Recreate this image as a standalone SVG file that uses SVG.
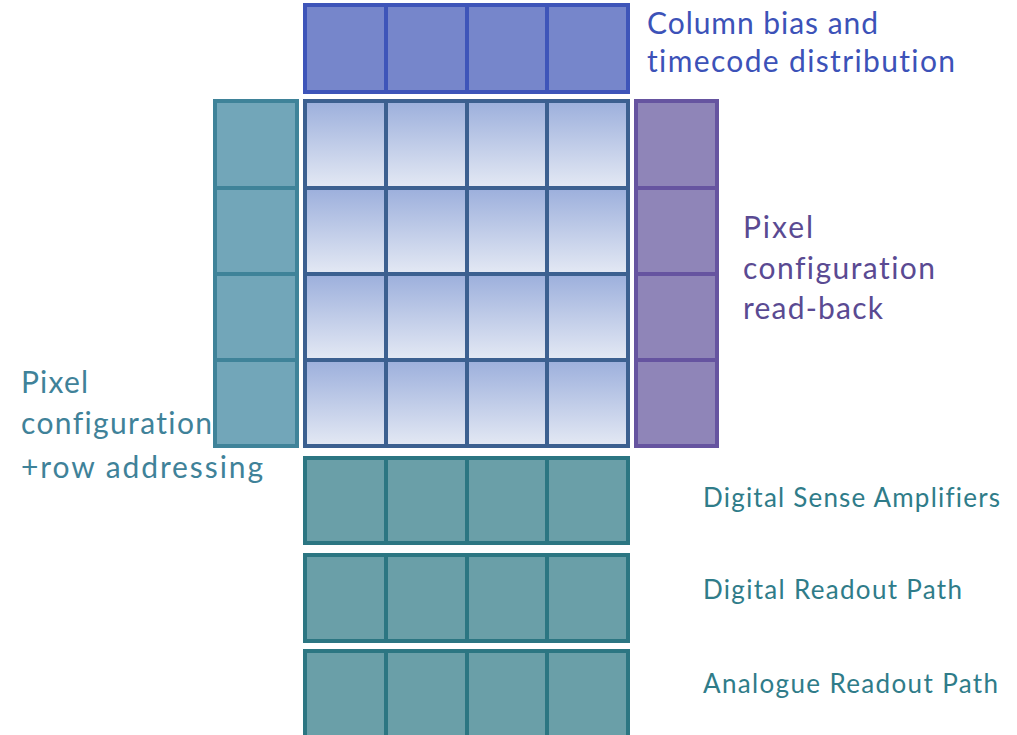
<svg xmlns="http://www.w3.org/2000/svg" width="1017" height="735" viewBox="0 0 1017 735">
  <defs>
    <linearGradient id="pixelFill" x1="0" y1="0" x2="0" y2="1">
      <stop offset="0" stop-color="#9cafdc"/>
      <stop offset="1" stop-color="#e4e9f4"/>
    </linearGradient>
    <style>
      rect { stroke-width: 4; }
      .bias rect { fill: #7686cb; stroke: #3e55b9; }
      .pix rect { fill: url(#pixelFill); stroke: #3c6090; }
      .rowcfg rect { fill: #72a6b9; stroke: #3f8399; }
      .readback rect { fill: #8f85b8; stroke: #6654a0; }
      .readout rect { fill: #6a9fa8; stroke: #2c7682; }
      text { font-family: Lato, "Open Sans", sans-serif; font-variant-ligatures: none; }
      .lbl-blue { fill: #3c52b8; font-size: 30px; }
      .lbl-purple { fill: #5a4a92; font-size: 30px; }
      .lbl-teal { fill: #3f8299; font-size: 30px; }
      .lbl-small { fill: #2f7c89; font-size: 26px; }
    </style>
  </defs>

  <rect width="1017" height="735" fill="#ffffff"/>

  <!-- column bias and timecode distribution strip -->
  <g id="column-bias" class="bias">
    <rect x="305" y="5" width="81" height="87"/>
    <rect x="386" y="5" width="81" height="87"/>
    <rect x="467" y="5" width="80" height="87"/>
    <rect x="547" y="5" width="81" height="87"/>
  </g>

  <!-- pixel matrix 4x4 -->
  <g id="pixel-matrix" class="pix">
    <rect x="305" y="101" width="81" height="87"/>
    <rect x="386" y="101" width="81" height="87"/>
    <rect x="467" y="101" width="80" height="87"/>
    <rect x="547" y="101" width="81" height="87"/>
    <rect x="305" y="188" width="81" height="86"/>
    <rect x="386" y="188" width="81" height="86"/>
    <rect x="467" y="188" width="80" height="86"/>
    <rect x="547" y="188" width="81" height="86"/>
    <rect x="305" y="274" width="81" height="86"/>
    <rect x="386" y="274" width="81" height="86"/>
    <rect x="467" y="274" width="80" height="86"/>
    <rect x="547" y="274" width="81" height="86"/>
    <rect x="305" y="360" width="81" height="86"/>
    <rect x="386" y="360" width="81" height="86"/>
    <rect x="467" y="360" width="80" height="86"/>
    <rect x="547" y="360" width="81" height="86"/>
  </g>

  <!-- row configuration / addressing column -->
  <g id="row-config" class="rowcfg">
    <rect x="215" y="101" width="82" height="87"/>
    <rect x="215" y="188" width="82" height="86"/>
    <rect x="215" y="274" width="82" height="86"/>
    <rect x="215" y="360" width="82" height="86"/>
  </g>

  <!-- configuration read-back column -->
  <g id="config-readback" class="readback">
    <rect x="636" y="101" width="81" height="87"/>
    <rect x="636" y="188" width="81" height="86"/>
    <rect x="636" y="274" width="81" height="86"/>
    <rect x="636" y="360" width="81" height="86"/>
  </g>

  <!-- periphery rows below the matrix -->
  <g id="sense-amplifiers" class="readout">
    <rect x="305" y="458" width="81" height="85"/>
    <rect x="386" y="458" width="81" height="85"/>
    <rect x="467" y="458" width="80" height="85"/>
    <rect x="547" y="458" width="81" height="85"/>
  </g>
  <g id="digital-readout" class="readout">
    <rect x="305" y="555" width="81" height="86"/>
    <rect x="386" y="555" width="81" height="86"/>
    <rect x="467" y="555" width="80" height="86"/>
    <rect x="547" y="555" width="81" height="86"/>
  </g>
  <g id="analogue-readout" class="readout">
    <rect x="305" y="651" width="81" height="90"/>
    <rect x="386" y="651" width="81" height="90"/>
    <rect x="467" y="651" width="80" height="90"/>
    <rect x="547" y="651" width="81" height="90"/>
  </g>

  <!-- labels -->
  <g id="labels">
    <text class="lbl-blue" x="647" y="34" textLength="231" lengthAdjust="spacing">Column bias and</text>
    <text class="lbl-blue" x="647" y="72" textLength="308" lengthAdjust="spacing">timecode distribution</text>

    <text class="lbl-purple" x="743" y="238" textLength="70" lengthAdjust="spacing">Pixel</text>
    <text class="lbl-purple" x="743" y="279" textLength="192" lengthAdjust="spacing">configuration</text>
    <text class="lbl-purple" x="743" y="319" textLength="140" lengthAdjust="spacing">read-back</text>

    <text class="lbl-teal" x="21" y="393" textLength="67" lengthAdjust="spacing">Pixel</text>
    <text class="lbl-teal" x="21" y="434" textLength="191" lengthAdjust="spacing">configuration</text>
    <text class="lbl-teal" x="21" y="478" textLength="242" lengthAdjust="spacing">+row addressing</text>

    <text class="lbl-small" x="703" y="507" textLength="297" lengthAdjust="spacing">Digital Sense Amplifiers</text>
    <text class="lbl-small" x="703" y="599" textLength="259" lengthAdjust="spacing">Digital Readout Path</text>
    <text class="lbl-small" x="703" y="693" textLength="295" lengthAdjust="spacing">Analogue Readout Path</text>
  </g>
</svg>
